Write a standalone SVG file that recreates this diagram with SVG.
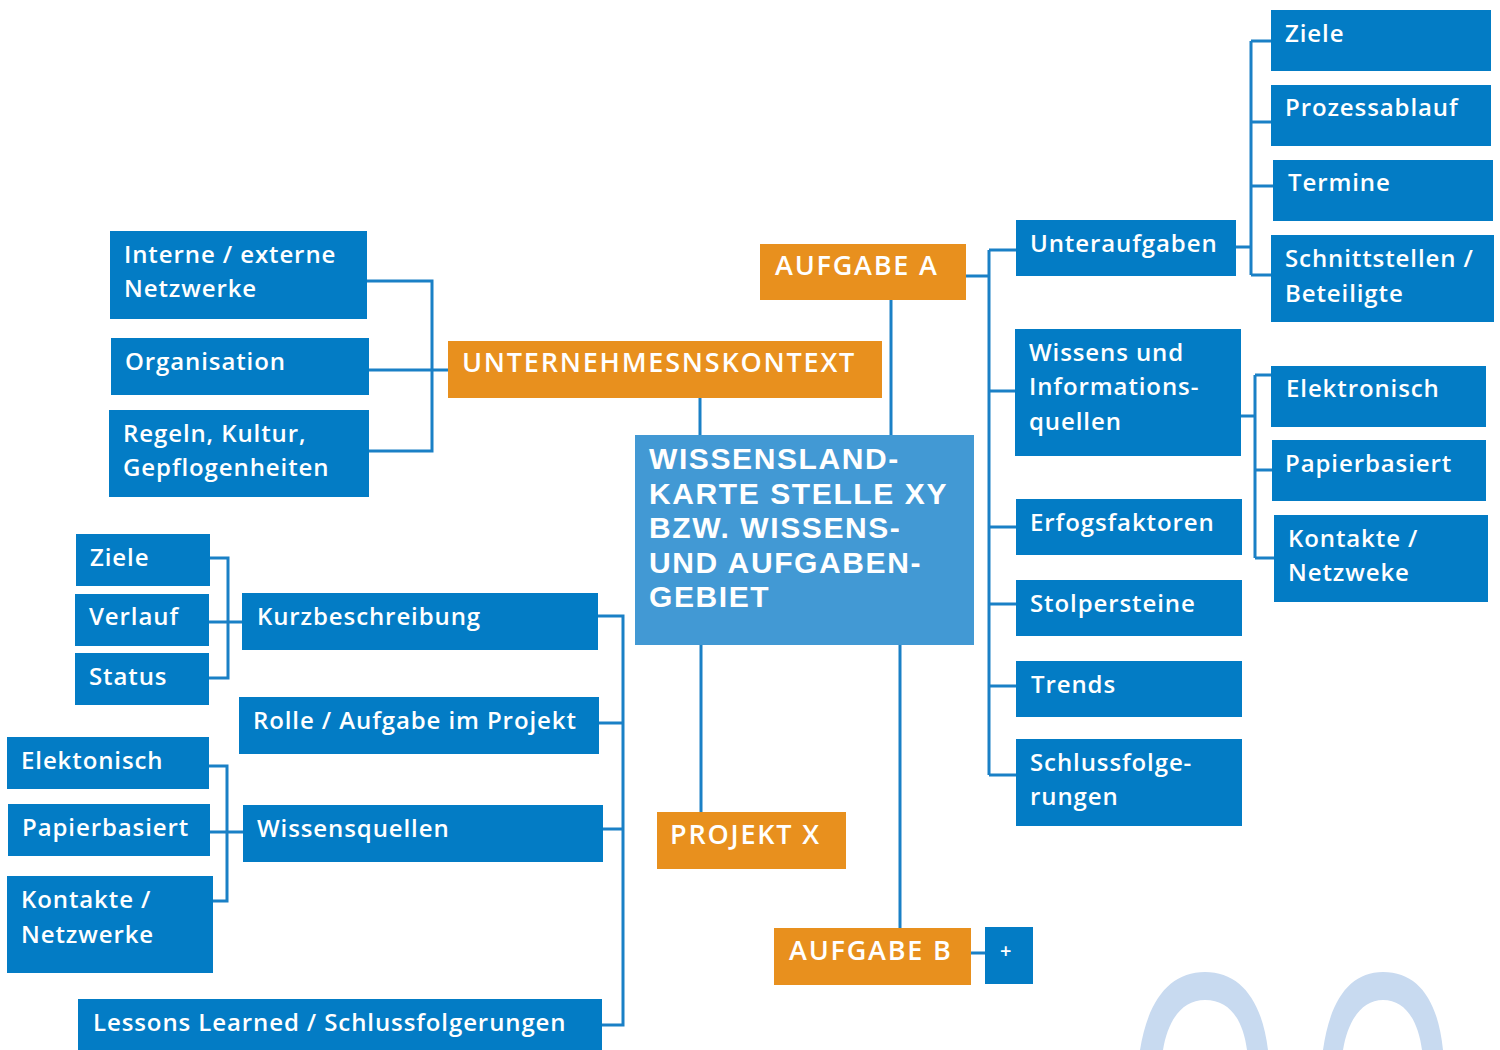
<svg xmlns="http://www.w3.org/2000/svg" width="1500" height="1050" viewBox="0 0 1500 1050">
<style>
.n{fill:#037CC5}
.o{fill:#E8901E}
.c{fill:#4299D4}
.t{font-family:"Open Sans","Liberation Sans",sans-serif;font-weight:600;font-size:24px;letter-spacing:0.9px;fill:#fff}
.tu{font-family:"Open Sans","Liberation Sans",sans-serif;font-weight:600;font-size:27px;letter-spacing:1.8px;fill:#fff}
.tc{font-family:"Liberation Sans","Open Sans",sans-serif;font-weight:bold;font-size:30px;letter-spacing:1.6px;fill:#fff}
.k{stroke:#1A80C6;stroke-width:3;fill:none}
.arc{fill:#C8DAF0}
</style>
<rect width="1500" height="1050" fill="#fff"/>
<g id="deco">
<path class="arc" d="M1140 1050 C1148 1000 1170 972 1205 972 C1240 972 1262 1000 1268 1050 L1247 1050 C1243 1020 1230 1000 1205 1000 C1182 1000 1168 1020 1163 1050 Z"/>
<path class="arc" d="M1323 1050 C1330 1000 1350 972 1383 972 C1418 972 1438 1000 1443 1050 L1422 1050 C1418 1020 1405 1000 1383 1000 C1362 1000 1348 1020 1343 1050 Z"/>
</g>
<g id="connectors">
<path class="k" d="M1251 41 V275 M1251 41 H1271 M1251 122 H1271 M1251 186 H1273 M1251 275 H1271 M1236 247 H1251"/>
<path class="k" d="M953 276 H989 M989 250 V775 M989 250 H1016 M989 391 H1015 M989 527 H1016 M989 604 H1016 M989 686 H1016 M989 775 H1016"/>
<path class="k" d="M1255 375 V558 M1255 375 H1271 M1255 470 H1272 M1255 558 H1274 M1241 416 H1255"/>
<path class="k" d="M367 281 H432 V451 H369 M369 370 H462"/>
<path class="k" d="M700 390 V443 M891 291 V440 M701 633 V812 M900 630 V928 M971 953 H985"/>
<path class="k" d="M210 558 H228 V678 H209 M209 622 H242"/>
<path class="k" d="M209 766 H227 V901 H213 M210 832 H243"/>
<path class="k" d="M598 616 H623 V1025 H602 M599 723 H623 M603 829 H623"/>
</g>
<g id="ziele-r"><rect class="n" x="1271" y="10" width="220" height="61"/><text class="t" x="1285" y="42">Ziele</text></g>
<g id="prozessablauf"><rect class="n" x="1271" y="85" width="220" height="61"/><text class="t" x="1285" y="116">Prozessablauf</text></g>
<g id="termine"><rect class="n" x="1273" y="160" width="220" height="61"/><text class="t" x="1288" y="191">Termine</text></g>
<g id="schnittstellen"><rect class="n" x="1271" y="235" width="223" height="87"/><text class="t" x="1285" y="267">Schnittstellen /</text><text class="t" x="1285" y="302">Beteiligte</text></g>
<g id="unteraufgaben"><rect class="n" x="1016" y="220" width="220" height="56"/><text class="t" x="1030" y="252">Unteraufgaben</text></g>
<g id="wissens-info"><rect class="n" x="1015" y="329" width="226" height="127"/><text class="t" x="1029" y="361">Wissens und</text><text class="t" x="1029" y="395">Informations-</text><text class="t" x="1029" y="430">quellen</text></g>
<g id="elektronisch-r"><rect class="n" x="1271" y="366" width="215" height="61"/><text class="t" x="1286" y="397">Elektronisch</text></g>
<g id="papier-r"><rect class="n" x="1272" y="440" width="214" height="61"/><text class="t" x="1285" y="472">Papierbasiert</text></g>
<g id="kontakte-r"><rect class="n" x="1274" y="515" width="214" height="87"/><text class="t" x="1288" y="547">Kontakte /</text><text class="t" x="1288" y="581">Netzweke</text></g>
<g id="erfolg"><rect class="n" x="1016" y="499" width="226" height="56"/><text class="t" x="1030" y="531">Erfogsfaktoren</text></g>
<g id="stolper"><rect class="n" x="1016" y="580" width="226" height="56"/><text class="t" x="1030" y="612">Stolpersteine</text></g>
<g id="trends"><rect class="n" x="1016" y="661" width="226" height="56"/><text class="t" x="1031" y="693">Trends</text></g>
<g id="schluss"><rect class="n" x="1016" y="739" width="226" height="87"/><text class="t" x="1030" y="771">Schlussfolge-</text><text class="t" x="1030" y="805">rungen</text></g>
<g id="interne"><rect class="n" x="110" y="231" width="257" height="88"/><text class="t" x="124" y="263">Interne / externe</text><text class="t" x="124" y="297">Netzwerke</text></g>
<g id="organisation"><rect class="n" x="111" y="338" width="258" height="57"/><text class="t" x="125" y="370">Organisation</text></g>
<g id="regeln"><rect class="n" x="109" y="410" width="260" height="87"/><text class="t" x="123" y="442">Regeln, Kultur,</text><text class="t" x="123" y="476">Gepflogenheiten</text></g>
<g id="unternehmen"><rect class="o" x="448" y="341" width="434" height="57"/><text class="tu" x="462" y="372">UNTERNEHMESNSKONTEXT</text></g>
<g id="aufgabe-a"><rect class="o" x="760" y="244" width="206" height="56"/><text class="tu" x="775" y="275">AUFGABE A</text></g>
<g id="center"><rect class="c" x="635" y="435" width="339" height="210"/><text class="tc" x="649" y="469">WISSENSLAND-</text><text class="tc" x="649" y="504">KARTE STELLE XY</text><text class="tc" x="649" y="538">BZW. WISSENS-</text><text class="tc" x="649" y="573">UND AUFGABEN-</text><text class="tc" x="649" y="607">GEBIET</text></g>
<g id="projekt"><rect class="o" x="657" y="812" width="189" height="57"/><text class="tu" x="670" y="844">PROJEKT X</text></g>
<g id="aufgabe-b"><rect class="o" x="774" y="928" width="197" height="57"/><text class="tu" x="789" y="960">AUFGABE B</text></g>
<g id="plus"><rect class="n" x="985" y="927" width="48" height="57"/><text class="t" x="1000" y="958" style="font-size:20px">+</text></g>
<g id="ziele-l"><rect class="n" x="76" y="534" width="134" height="52"/><text class="t" x="90" y="566">Ziele</text></g>
<g id="verlauf"><rect class="n" x="75" y="594" width="134" height="52"/><text class="t" x="89" y="625">Verlauf</text></g>
<g id="status"><rect class="n" x="75" y="653" width="134" height="52"/><text class="t" x="89" y="685">Status</text></g>
<g id="kurz"><rect class="n" x="242" y="593" width="356" height="57"/><text class="t" x="257" y="625">Kurzbeschreibung</text></g>
<g id="rolle"><rect class="n" x="239" y="697" width="360" height="57"/><text class="t" x="253" y="729">Rolle / Aufgabe im Projekt</text></g>
<g id="elektonisch-l"><rect class="n" x="7" y="737" width="202" height="52"/><text class="t" x="21" y="769">Elektonisch</text></g>
<g id="papier-l"><rect class="n" x="8" y="804" width="202" height="52"/><text class="t" x="22" y="836">Papierbasiert</text></g>
<g id="kontakte-l"><rect class="n" x="7" y="876" width="206" height="97"/><text class="t" x="21" y="908">Kontakte /</text><text class="t" x="21" y="943">Netzwerke</text></g>
<g id="wissensquellen"><rect class="n" x="243" y="805" width="360" height="57"/><text class="t" x="257" y="837">Wissensquellen</text></g>
<g id="lessons"><rect class="n" x="78" y="999" width="524" height="51"/><text class="t" x="93" y="1031">Lessons Learned / Schlussfolgerungen</text></g>
</svg>
